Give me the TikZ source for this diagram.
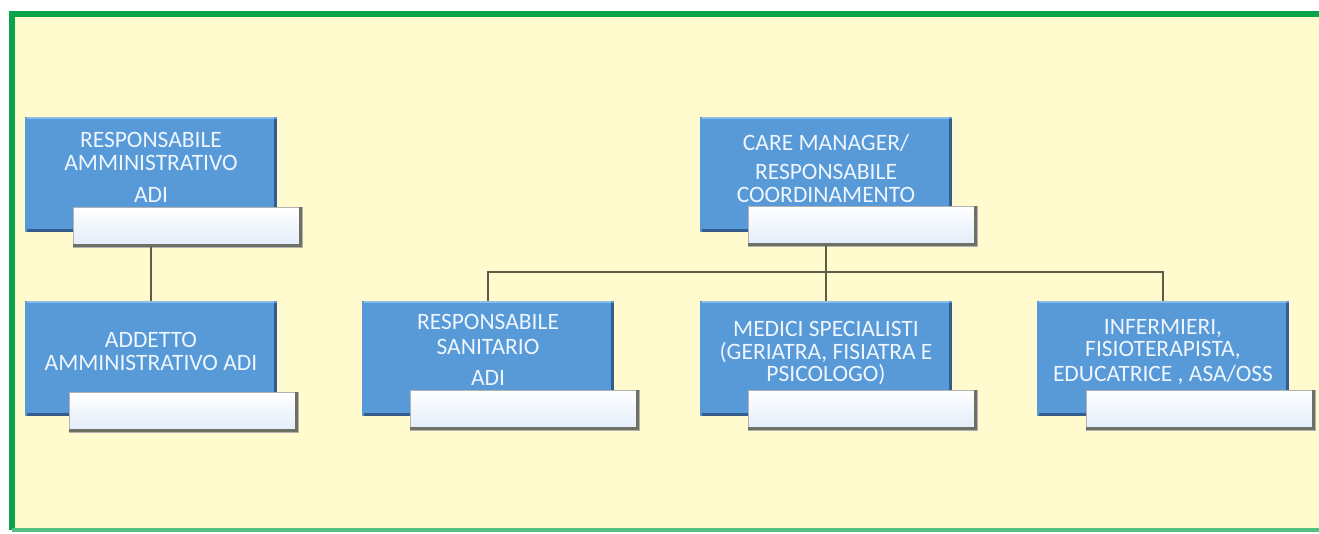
\documentclass[tikz,border=0pt]{standalone}
\usepackage{fontspec}
\setmainfont{Carlito}
\definecolor{bg}{RGB}{255,251,206}
\definecolor{frame}{RGB}{10,165,75}
\definecolor{boxblue}{RGB}{88,153,216}
\definecolor{bluedark}{RGB}{52,92,140}
\definecolor{bluelight}{RGB}{140,190,235}
\definecolor{wbot}{RGB}{226,236,250}
\definecolor{wedge}{RGB}{110,112,100}
\definecolor{linegray}{RGB}{92,94,72}
\definecolor{txt}{RGB}{238,246,255}
\begin{document}
\begin{tikzpicture}[x=1pt,y=-1pt,
  bluebox/.style={fill=boxblue, draw=none, minimum width=252pt, minimum height=115pt, anchor=north west, inner sep=0pt, outer sep=0pt},
  whitebox/.style={top color=white, bottom color=wbot, draw=gray!60, line width=1pt, minimum width=229pt, minimum height=40pt, anchor=north west, inner sep=0pt, outer sep=0pt},
  lbl/.style={text=txt, font=\fontsize{23.5}{23}\selectfont, align=center, inner sep=0pt},
  conn/.style={draw=linegray, line width=2pt}]
\useasboundingbox (0,0) rectangle (1319,533);
\fill[white] (0,0) rectangle (1319,533);
\fill[bg] (11,13) rectangle (1319,530);
\draw[frame, line width=6pt] (1319,13.5) -- (11.5,13.5) -- (11.5,529.5);
\draw[frame!70, line width=4pt] (11.5,529.5) -- (1319,529.5);
% blue boxes
\node[bluebox] (b1) at (25,117) {};
\node[bluebox] (b2) at (25,301) {};
\node[bluebox] (cm) at (700,117) {};
\node[bluebox] (rs) at (362,301) {};
\node[bluebox] (md) at (700,301) {};
\node[bluebox] (inf) at (1037,301) {};
\foreach \n in {b1,b2,cm,rs,md,inf}{
  \draw[bluedark, line width=3pt] ([shift={(-1.5,1.5)}]\n.north east) -- ([shift={(-1.5,-1.5)}]\n.south east) -- ([shift={(1.5,-1.5)}]\n.south west);
  \draw[bluelight, line width=2pt] ([shift={(2,1)}]\n.north west) -- ([shift={(-3,1)}]\n.north east);
}
% white boxes
\foreach \n/\dx/\dy in {b1/48/90,b2/44/91,cm/48/89,rs/48/89,md/48/89,inf/49/89}{
  \node[whitebox] (w\n) at ([shift={(\dx,\dy)}]\n.north west) {};
  \draw[wedge, line width=3pt] ([shift={(-1.5,0)}]w\n.north east) -- ([shift={(-1.5,-1.5)}]w\n.south east) -- ([shift={(0,-1.5)}]w\n.south west);
}
% labels
\node[lbl] (t1) at (151,167.5) {RESPONSABILE\\AMMINISTRATIVO\\[9pt]ADI};
\node[lbl] (t2) at (151,351.5) {ADDETTO\\AMMINISTRATIVO ADI};
\node[lbl] (tcm) at (826,168) {CARE MANAGER/\\[6pt]RESPONSABILE\\[0pt]COORDINAMENTO};
\node[lbl] (trs) at (488,350) {RESPONSABILE\\[2pt]SANITARIO\\[8pt]ADI};
\node[lbl] (tmd) at (826,352.5) {MEDICI SPECIALISTI\\(GERIATRA, FISIATRA E\\[-1pt]PSICOLOGO)};
\node[lbl] (tinf) at (1163,351.5) {INFERMIERI,\\[-1pt]FISIOTERAPISTA,\\[2pt]EDUCATRICE , ASA/OSS};
% connectors
\draw[conn] (b1.center |- wb1.south) -- (b2.north);
\draw[conn] (cm.center |- wcm.south) -- ++(0,26) coordinate (j);
\draw[conn] (rs.north) -- (rs.north |- j) -- (inf.north |- j) -- (inf.north);
\draw[conn] (j) -- (md.north);
\end{tikzpicture}
\end{document}
